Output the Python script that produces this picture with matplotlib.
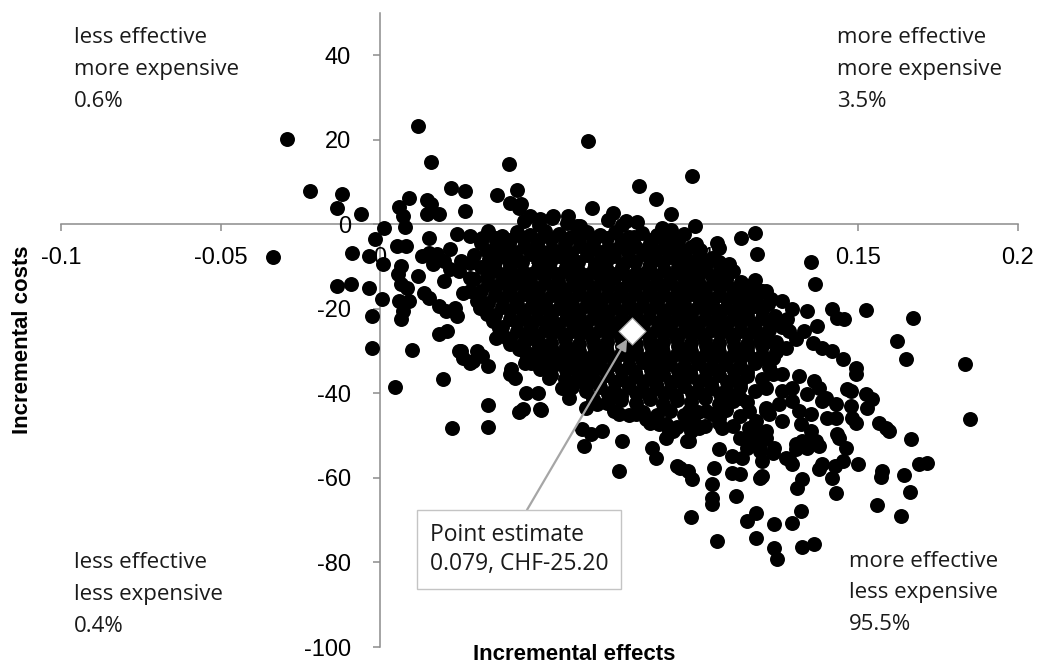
import matplotlib.pyplot as plt

plt.rcParams['axes.unicode_minus'] = False

"""
DATA (read off the cost-effectiveness plane)
"""

# outliers left of / around the y-axis
left_tail = [
    (-0.0290, 20.2), (-0.0218, 7.9), (-0.0118, 7.2), (-0.0136, 3.8), (-0.0058, 2.4),
    (-0.0334, -7.7), (-0.0089, -6.8), (-0.0033, -7.5), (-0.0017, -3.5), (0.0008, -9.5),
    (0.0014, -0.9), (-0.0136, -14.5), (-0.0092, -14.1), (-0.0033, -15.1), (0.0005, -17.7),
    (-0.0024, -21.7), (-0.0024, -29.2), (0.0046, -38.5), (0.0099, -29.8), (0.0196, -36.6),
    (0.0340, -42.8), (0.0227, -48.2), (0.0337, -47.9), (0.0437, -44.4), (0.0506, -43.9),
    (0.0459, -39.9), (0.0494, -39.9), (0.0447, -43.7),
]

# replicates above zero cost
above_zero = [
    (0.0118, 23.2), (0.0161, 14.7), (0.0403, 14.2), (0.0224, 8.6), (0.0265, 7.9),
    (0.0265, 3.1), (0.0368, 7.0), (0.0428, 8.1), (0.0406, 5.0), (0.0437, 3.9),
    (0.0092, 6.2), (0.0061, 4.1), (0.0146, 5.7), (0.0161, 4.8), (0.0146, 2.4),
    (0.0186, 2.4), (0.0071, 2.0), (0.0077, -0.6), (0.0653, 19.7), (0.0979, 11.4),
    (0.0813, 9.1), (0.0866, 6.0), (0.0913, 2.4), (0.0666, 3.9), (0.0989, -0.4),
    (0.0885, -0.9), (0.0729, 2.7), (0.0772, 0.8), (0.0541, 2.0), (0.0588, 2.0),
    (0.0619, -0.4), (0.0443, 4.8), (0.0469, 2.0), (0.0500, 1.2),
]

# upper right edge of the cloud
upper_right = [
    (0.1133, -3.2), (0.1177, -2.1), (0.1183, -7.0), (0.1055, -4.4), (0.1064, -5.6),
    (0.0992, -4.7), (0.0917, -3.5), (0.0929, -6.8), (0.0964, -9.4), (0.0995, -9.4),
    (0.1095, -9.4), (0.1073, -11.0), (0.1073, -14.1), (0.1127, -14.6),
    (0.1168, -15.1), (0.1211, -15.8), (0.1158, -18.1),
]

# left edge of the cloud
left_edge = [
    (0.0155, -3.2), (0.0240, -2.3), (0.0281, -2.8), (0.0321, -3.2), (0.0133, -7.5),
    (0.0155, -6.8), (0.0165, -9.4), (0.0180, -7.0), (0.0202, -8.7), (0.0218, -5.8),
    (0.0249, -11.0), (0.0255, -8.7), (0.0281, -9.1), (0.0281, -12.6), (0.0218, -10.6),
    (0.0202, -13.4), (0.0139, -16.2), (0.0155, -17.4), (0.0186, -19.3), (0.0208, -20.5),
    (0.0234, -19.8), (0.0240, -21.7), (0.0186, -26.0), (0.0211, -25.2), (0.0255, -29.9),
    (0.0259, -31.6), (0.0281, -32.8), (0.0303, -29.9), (0.0321, -31.1), (0.0259, -16.2),
    (0.0281, -15.8), (0.0303, -18.1), (0.0312, -19.8), (0.0334, -21.3), (0.0353, -22.9),
    (0.0374, -24.5), (0.0365, -26.9), (0.0397, -26.9), (0.0406, -28.3), (0.0437, -29.5),
    (0.0412, -34.2), (0.0422, -36.4), (0.0453, -32.8), (0.0500, -34.2), (0.0531, -29.9),
    (0.0553, -33.0), (0.0509, -29.3), (0.0469, -30.7), (0.0334, -12.6), (0.0353, -10.3),
    (0.0334, -6.3), (0.0365, -3.9), (0.0052, -5.1), (0.0083, -5.1), (0.0067, -9.9),
    (0.0055, -11.8), (0.0118, -12.3), (0.0067, -14.1), (0.0086, -15.1), (0.0061, -18.1),
    (0.0092, -18.1), (0.0071, -20.5), (0.0067, -22.4), (0.0459, -32.3), (0.0447, -28.3),
    (0.0491, -27.6), (0.0249, -30.0), (0.0290, -32.3), (0.0337, -33.5), (0.0406, -35.5),
]

# dense core, upper part
core_top = [
    (0.0452, 0.9), (0.0497, -0.2), (0.0540, 1.4), (0.0585, 0.3), (0.0628, -0.5),
    (0.0716, 1.0), (0.0760, -0.1), (0.0805, 0.6),
    (0.0338, -1.6), (0.0383, -2.8), (0.0430, -1.9), (0.0471, -2.6), (0.0518, -1.5),
    (0.0561, -2.4), (0.0600, -3.0), (0.0649, -1.8), (0.0690, -2.5), (0.0736, -1.7),
    (0.0781, -2.9), (0.0822, -2.0), (0.0868, -2.6), (0.0912, -1.4), (0.0953, -2.3),
    (0.0318, -4.5), (0.0362, -5.6), (0.0405, -4.2), (0.0451, -5.3), (0.0493, -4.7),
    (0.0538, -5.8), (0.0580, -4.4), (0.0626, -5.1), (0.0668, -4.0), (0.0714, -5.5),
    (0.0756, -4.6), (0.0800, -5.2), (0.0846, -4.3), (0.0889, -5.7), (0.0931, -4.8),
    (0.0975, -5.4),
    (0.0296, -7.2), (0.0341, -8.3), (0.0385, -7.5), (0.0427, -8.0), (0.0473, -7.1),
    (0.0515, -8.4), (0.0560, -7.6), (0.0602, -8.1), (0.0648, -7.3), (0.0692, -8.2),
    (0.0734, -7.4), (0.0780, -8.0), (0.0824, -7.0), (0.0866, -8.3), (0.0911, -7.7),
    (0.0955, -8.1), (0.0999, -7.4), (0.1041, -8.0),
    (0.0318, -10.2), (0.0363, -11.1), (0.0406, -10.0), (0.0449, -11.3), (0.0495, -10.4),
    (0.0536, -11.0), (0.0582, -10.1), (0.0624, -11.2), (0.0670, -10.5), (0.0712, -10.9),
    (0.0758, -10.0), (0.0802, -11.4), (0.0844, -10.3), (0.0889, -10.8), (0.0933, -10.1),
    (0.0977, -11.2), (0.1019, -10.6), (0.1065, -10.2), (0.1108, -11.0),
    (0.0296, -13.0), (0.0340, -14.0), (0.0385, -13.2), (0.0428, -13.9), (0.0471, -12.9),
    (0.0517, -13.8), (0.0558, -13.3), (0.0604, -14.1), (0.0646, -13.1), (0.0692, -13.7),
    (0.0735, -12.8), (0.0778, -14.0), (0.0823, -13.4), (0.0868, -13.8), (0.0910, -13.0),
    (0.0955, -14.2), (0.0997, -13.3), (0.1043, -13.9), (0.1085, -13.1), (0.1131, -13.7),
    (0.1174, -13.2),
]

# dense core, middle part
core_mid = [
    (0.0318, -15.8), (0.0362, -16.7), (0.0407, -15.9), (0.0450, -16.6), (0.0494, -15.7),
    (0.0538, -16.8), (0.0581, -16.0), (0.0624, -16.5), (0.0670, -15.6), (0.0713, -16.9),
    (0.0757, -16.1), (0.0800, -16.4), (0.0846, -15.8), (0.0888, -16.7), (0.0933, -16.0),
    (0.0976, -16.5), (0.1020, -15.9), (0.1063, -16.8), (0.1109, -16.1), (0.1151, -16.6),
    (0.1195, -15.7),
    (0.0340, -18.7), (0.0384, -19.6), (0.0429, -18.8), (0.0472, -19.5), (0.0516, -18.6),
    (0.0560, -19.7), (0.0603, -18.9), (0.0646, -19.4), (0.0691, -18.5), (0.0735, -19.8),
    (0.0780, -19.0), (0.0822, -19.3), (0.0867, -18.7), (0.0911, -19.6), (0.0954, -18.9),
    (0.0998, -19.5), (0.1042, -18.6), (0.1086, -19.7), (0.1129, -19.0), (0.1175, -19.4),
    (0.1217, -18.8),
    (0.0362, -21.4), (0.0406, -22.4), (0.0450, -21.6), (0.0493, -22.3), (0.0537, -21.5),
    (0.0582, -22.5), (0.0625, -21.7), (0.0668, -22.2), (0.0713, -21.3), (0.0757, -22.6),
    (0.0801, -21.8), (0.0844, -22.1), (0.0889, -21.5), (0.0932, -22.4), (0.0976, -21.7),
    (0.1020, -22.3), (0.1064, -21.4), (0.1107, -22.5), (0.1152, -21.8), (0.1196, -22.2),
    (0.1239, -21.6),
    (0.0384, -24.2), (0.0428, -25.2), (0.0472, -24.4), (0.0516, -25.1), (0.0559, -24.3),
    (0.0603, -25.3), (0.0647, -24.5), (0.0691, -25.0), (0.0735, -24.1), (0.0779, -25.4),
    (0.0823, -24.6), (0.0867, -24.9), (0.0910, -24.3), (0.0954, -25.2), (0.0998, -24.5),
    (0.1042, -25.1), (0.1086, -24.2), (0.1130, -25.3), (0.1174, -24.6), (0.1218, -25.0),
    (0.1261, -24.4),
    (0.0406, -27.1), (0.0450, -28.1), (0.0494, -27.3), (0.0537, -28.0), (0.0581, -27.2),
    (0.0625, -28.2), (0.0669, -27.4), (0.0713, -27.9), (0.0757, -27.0), (0.0801, -28.3),
    (0.0845, -27.5), (0.0888, -27.8), (0.0932, -27.2), (0.0976, -28.1), (0.1020, -27.4),
    (0.1064, -28.0), (0.1108, -27.1), (0.1152, -28.2), (0.1196, -27.5), (0.1240, -27.9),
    (0.0450, -29.9), (0.0494, -30.9), (0.0537, -30.1), (0.0581, -30.8), (0.0625, -30.0),
    (0.0669, -31.0), (0.0713, -30.2), (0.0757, -30.7), (0.0801, -29.8), (0.0845, -31.1),
    (0.0888, -30.3), (0.0932, -30.6), (0.0976, -30.0), (0.1020, -30.9), (0.1064, -30.2),
    (0.1108, -30.8), (0.1152, -29.9), (0.1196, -31.0), (0.1240, -30.3),
]

# dense core, lower part
core_low = [
    (0.0472, -32.7), (0.0516, -33.7), (0.0559, -32.9), (0.0603, -33.6), (0.0647, -32.8),
    (0.0691, -33.8), (0.0735, -33.0), (0.0779, -33.5), (0.0823, -32.6), (0.0867, -33.9),
    (0.0910, -33.1), (0.0954, -33.4), (0.0998, -32.8), (0.1042, -33.7), (0.1086, -33.0),
    (0.1130, -33.6), (0.1174, -32.7), (0.1218, -33.8),
    (0.0537, -35.6), (0.0581, -36.6), (0.0625, -35.8), (0.0669, -36.5), (0.0713, -35.7),
    (0.0757, -36.7), (0.0801, -35.9), (0.0845, -36.4), (0.0888, -35.5), (0.0932, -36.8),
    (0.0976, -36.0), (0.1020, -36.3), (0.1064, -35.7), (0.1108, -36.6), (0.1152, -35.9),
    (0.1196, -36.5),
    (0.0603, -38.4), (0.0647, -39.4), (0.0691, -38.6), (0.0735, -39.3), (0.0779, -38.5),
    (0.0823, -39.5), (0.0867, -38.7), (0.0910, -39.2), (0.0954, -38.3), (0.0998, -39.6),
    (0.1042, -38.8), (0.1086, -39.1), (0.1130, -38.5), (0.1174, -39.4),
    (0.0669, -41.3), (0.0713, -42.3), (0.0757, -41.5), (0.0801, -42.2), (0.0845, -41.4),
    (0.0888, -42.4), (0.0932, -41.6), (0.0976, -42.1), (0.1020, -41.2), (0.1064, -42.5),
    (0.1108, -41.7), (0.1152, -42.0),
    (0.0735, -44.1), (0.0779, -45.1), (0.0823, -44.3), (0.0867, -45.0), (0.0910, -44.2),
    (0.0954, -45.2), (0.0998, -44.4), (0.1042, -44.9), (0.1086, -44.0), (0.1130, -45.3),
    (0.0845, -46.9), (0.0932, -47.9), (0.0976, -47.1), (0.1020, -47.8), (0.1064, -47.0),
    (0.1108, -47.7),
]

# replicates packed between the rows of the dense core
core_fill = [
    (0.0365, -3.3), (0.0408, -3.8), (0.0449, -3.2), (0.0496, -3.7), (0.0536, -3.4),
    (0.0583, -3.9), (0.0623, -3.2), (0.0671, -3.6), (0.0711, -3.3), (0.0759, -3.8),
    (0.0797, -3.1), (0.0849, -3.7), (0.0886, -3.4), (0.0934, -3.9),
    (0.0388, -6.1), (0.0424, -6.6), (0.0476, -6.0), (0.0512, -6.5), (0.0563, -6.2),
    (0.0599, -6.7), (0.0651, -6.0), (0.0689, -6.5), (0.0737, -6.1), (0.0777, -6.6),
    (0.0827, -6.0), (0.0863, -6.4), (0.0914, -6.2), (0.0952, -6.7), (0.1002, -6.1),
    (0.0360, -9.0), (0.0409, -9.4), (0.0446, -8.8), (0.0498, -9.3), (0.0533, -9.0),
    (0.0585, -9.5), (0.0621, -8.9), (0.0673, -9.3), (0.0709, -8.8), (0.0761, -9.4),
    (0.0799, -9.0), (0.0847, -9.5), (0.0886, -8.9), (0.0936, -9.3), (0.0974, -9.0),
    (0.1022, -9.4), (0.1062, -8.9),
    (0.0388, -11.9), (0.0425, -12.3), (0.0474, -11.7), (0.0514, -12.2), (0.0561, -11.8),
    (0.0601, -12.4), (0.0649, -11.9), (0.0689, -12.2), (0.0738, -11.7), (0.0775, -12.3),
    (0.0826, -11.8), (0.0865, -12.2), (0.0913, -11.9), (0.0952, -12.4), (0.1000, -11.8),
    (0.1040, -12.2), (0.1088, -11.9),
    (0.0365, -14.7), (0.0404, -15.1), (0.0453, -14.6), (0.0491, -15.0), (0.0541, -14.7),
    (0.0578, -15.2), (0.0627, -14.6), (0.0667, -15.0), (0.0716, -14.8), (0.0754, -15.2),
    (0.0803, -14.6), (0.0843, -15.0), (0.0891, -14.7), (0.0930, -15.1), (0.0979, -14.6),
    (0.1017, -15.0), (0.1066, -14.8), (0.1106, -15.2), (0.1154, -14.7),
    (0.0387, -17.5), (0.0426, -17.9), (0.0475, -17.4), (0.0513, -17.8), (0.0563, -17.5),
    (0.0600, -18.0), (0.0649, -17.4), (0.0688, -17.8), (0.0738, -17.6), (0.0777, -18.0),
    (0.0825, -17.4), (0.0864, -17.8), (0.0914, -17.5), (0.0951, -17.9), (0.1001, -17.4),
    (0.1039, -17.8), (0.1089, -17.6), (0.1126, -18.0), (0.1178, -17.5),
    (0.0409, -20.3), (0.0447, -20.8), (0.0496, -20.2), (0.0534, -20.6), (0.0585, -20.4),
    (0.0622, -20.8), (0.0671, -20.2), (0.0710, -20.6), (0.0760, -20.4), (0.0798, -20.8),
    (0.0847, -20.2), (0.0886, -20.6), (0.0935, -20.3), (0.0973, -20.7), (0.1023, -20.2),
    (0.1061, -20.6), (0.1110, -20.4), (0.1149, -20.8), (0.1199, -20.3),
    (0.0431, -23.1), (0.0469, -23.6), (0.0519, -23.0), (0.0556, -23.5), (0.0606, -23.2),
    (0.0644, -23.6), (0.0694, -23.0), (0.0732, -23.4), (0.0782, -23.2), (0.0820, -23.6),
    (0.0870, -23.0), (0.0907, -23.4), (0.0957, -23.2), (0.0995, -23.6), (0.1045, -23.0),
    (0.1083, -23.4), (0.1133, -23.2), (0.1171, -23.6), (0.1221, -23.1),
    (0.0453, -25.9), (0.0491, -26.4), (0.0540, -25.8), (0.0578, -26.3), (0.0628, -26.0),
    (0.0666, -26.4), (0.0716, -25.8), (0.0754, -26.2), (0.0804, -26.0), (0.0842, -26.4),
    (0.0891, -25.8), (0.0929, -26.2), (0.0979, -26.0), (0.1017, -26.4), (0.1067, -25.8),
    (0.1105, -26.2), (0.1155, -26.0), (0.1193, -26.4),
    (0.0497, -28.8), (0.0534, -29.2), (0.0584, -28.7), (0.0622, -29.1), (0.0672, -28.9),
    (0.0710, -29.3), (0.0760, -28.7), (0.0798, -29.1), (0.0848, -28.9), (0.0885, -29.3),
    (0.0935, -28.7), (0.0973, -29.1), (0.1023, -28.9), (0.1061, -29.3), (0.1111, -28.7),
    (0.1149, -29.1), (0.1199, -28.9),
    (0.0519, -31.6), (0.0556, -32.1), (0.0606, -31.5), (0.0644, -31.9), (0.0694, -31.7),
    (0.0732, -32.1), (0.0782, -31.5), (0.0820, -31.9), (0.0870, -31.7), (0.0907, -32.1),
    (0.0957, -31.5), (0.0995, -31.9), (0.1045, -31.7), (0.1083, -32.1), (0.1133, -31.5),
    (0.1171, -31.9),
    (0.0584, -34.5), (0.0622, -34.9), (0.0672, -34.4), (0.0710, -34.8), (0.0760, -34.6),
    (0.0798, -35.0), (0.0848, -34.4), (0.0885, -34.8), (0.0935, -34.6), (0.0973, -35.0),
    (0.1023, -34.4), (0.1061, -34.8), (0.1111, -34.6), (0.1149, -35.0),
    (0.0650, -37.3), (0.0688, -37.8), (0.0738, -37.2), (0.0776, -37.6), (0.0826, -37.4),
    (0.0864, -37.8), (0.0913, -37.2), (0.0951, -37.6), (0.1001, -37.4), (0.1039, -37.8),
    (0.1089, -37.2), (0.1127, -37.6),
    (0.0716, -40.1), (0.0754, -40.6), (0.0804, -40.0), (0.0842, -40.4), (0.0891, -40.2),
    (0.0929, -40.6), (0.0979, -40.0), (0.1017, -40.4), (0.1067, -40.2), (0.1105, -40.6),
]

# below the core
lower_mid = [
    (0.0616, -37.0), (0.0594, -41.1), (0.0647, -43.4), (0.0679, -42.5), (0.0720, -41.1),
    (0.0750, -44.9), (0.0804, -44.9), (0.0541, -29.9), (0.0584, -32.3), (0.0531, -36.3),
    (0.0572, -38.7), (0.0625, -33.0), (0.0666, -31.6), (0.0647, -35.4), (0.0500, -43.7),
    (0.0632, -48.4), (0.0663, -49.6), (0.0697, -48.9), (0.0641, -52.4), (0.0760, -51.2),
    (0.0750, -58.3), (0.0835, -46.0), (0.0876, -47.2), (0.0898, -47.2), (0.0854, -52.9),
    (0.0866, -55.3), (0.0898, -50.5), (0.0907, -48.9), (0.0970, -51.2), (0.0976, -48.9),
    (0.0986, -47.2), (0.0917, -48.9), (0.0961, -47.2), (0.0961, -51.2), (0.0970, -44.1),
    (0.1001, -48.2), (0.1023, -44.1), (0.1064, -45.8), (0.1073, -48.2), (0.1086, -41.1),
    (0.1127, -41.1), (0.1158, -44.1), (0.1158, -48.2), (0.1211, -43.4),
    (0.0930, -57.1), (0.0939, -57.6), (0.0964, -58.3), (0.0979, -60.2),
]

# bottom tail
lower_tail = [
    (0.1055, -74.9), (0.0976, -69.2), (0.1117, -64.2), (0.1042, -64.7), (0.1042, -66.1),
    (0.1042, -61.4), (0.1048, -57.6), (0.1064, -53.1), (0.1105, -54.8), (0.1105, -58.8),
    (0.1127, -59.0), (0.1199, -59.5), (0.1190, -60.0), (0.1190, -53.6),
    (0.1158, -51.2), (0.1127, -50.5), (0.1236, -52.9), (0.1180, -48.9), (0.1211, -50.5),
    (0.1283, -55.5), (0.1293, -56.7), (0.1305, -52.0), (0.1324, -51.2), (0.1356, -51.7),
    (0.1377, -52.4), (0.1440, -50.5), (0.1180, -68.2), (0.1152, -70.1), (0.1180, -74.1),
    (0.1236, -76.5), (0.1243, -79.1), (0.1324, -76.3), (0.1362, -75.6), (0.1321, -67.8),
    (0.1293, -70.6), (0.1236, -70.8), (0.1324, -60.2), (0.1308, -62.3), (0.1377, -57.8),
    (0.1425, -57.1), (0.1418, -60.0), (0.1431, -63.6), (0.1500, -56.7), (0.1450, -56.0),
    (0.1387, -56.7), (0.1462, -52.9), (0.1434, -49.6),
]

# right tail
right_tail = [
    (0.1352, -8.9), (0.1365, -14.1), (0.1199, -15.7), (0.1227, -17.7), (0.1261, -18.1),
    (0.1293, -20.0), (0.1277, -22.4), (0.1337, -20.5), (0.1371, -24.0), (0.1418, -20.0),
    (0.1434, -22.2), (0.1456, -22.4), (0.1525, -20.3), (0.1672, -22.2), (0.1622, -27.6),
    (0.1650, -31.9), (0.1835, -33.0), (0.1848, -46.0), (0.1666, -50.8), (0.1493, -34.0),
    (0.1493, -35.4), (0.1478, -39.4), (0.1525, -40.1), (0.1543, -41.3), (0.1528, -43.4),
    (0.1478, -43.0), (0.1481, -45.8), (0.1493, -47.0), (0.1565, -47.0), (0.1587, -48.1),
    (0.1597, -48.9), (0.1575, -58.3), (0.1572, -59.7), (0.1644, -59.3), (0.1691, -56.7),
    (0.1716, -56.4), (0.1663, -63.4), (0.1559, -66.3), (0.1634, -68.9), (0.1465, -38.9),
    (0.1236, -22.8), (0.1283, -25.2), (0.1330, -25.2),
]

# cluster right of the core
right_cluster = [
    (0.1261, -39.4), (0.1293, -41.8), (0.1337, -40.1), (0.1377, -38.7), (0.1387, -41.8),
    (0.1315, -44.1), (0.1352, -44.9), (0.1402, -45.8), (0.1261, -46.5), (0.1221, -44.9),
    (0.1180, -46.5), (0.1168, -48.9), (0.1211, -48.9), (0.1321, -47.2), (0.1352, -48.9),
    (0.1368, -51.2), (0.1337, -52.9), (0.1305, -53.1), (0.1274, -55.3), (0.1233, -54.1),
    (0.1190, -52.0), (0.1149, -52.9), (0.1136, -55.3), (0.1199, -56.0),
    (0.1305, -27.2), (0.1356, -28.1), (0.1387, -29.3), (0.1418, -30.0), (0.1450, -31.9),
    (0.1315, -35.9), (0.1362, -37.0), (0.1293, -38.7), (0.1190, -27.6), (0.1221, -27.6),
    (0.1199, -31.6), (0.1231, -31.6), (0.1274, -29.3), (0.1231, -35.4), (0.1261, -35.4),
    (0.1211, -38.7), (0.1252, -42.5), (0.1211, -44.1), (0.1399, -41.1), (0.1431, -42.5),
    (0.1431, -45.8),
]

point_effect = 0.079
point_cost = -25.20

x_ticks = [-0.1, -0.05, 0, 0.05, 0.1, 0.15, 0.2]
x_tick_labels = ['-0.1', '-0.05', '0', '0.05', '0.1', '0.15', '0.2']
y_ticks = [-100, -80, -60, -40, -20, 0, 20, 40]
y_tick_labels = ['-100', '-80', '-60', '-40', '-20', '0', '20', '40']

quadrant_ul = ['less effective', 'more expensive', '0.6%']
quadrant_ur = ['more effective', 'more expensive', '3.5%']
quadrant_ll = ['less effective', 'less expensive', '0.4%']
quadrant_lr = ['more effective', 'less expensive', '95.5%']

all_points = (left_tail + above_zero + upper_right + left_edge + core_top + core_mid
              + core_low + core_fill + lower_mid + lower_tail + right_tail + right_cluster)
effects = [p[0] for p in all_points]
costs = [p[1] for p in all_points]

"""
PLOT
"""

W, H = 1039, 668
fig = plt.figure(figsize=(W / 100, H / 100), dpi=100)
ax = fig.add_axes([61 / W, 1 - 647 / H, 957 / W, 634 / H])

ax.scatter(effects, costs, s=116, c='black', linewidths=0, zorder=2)
ax.scatter([point_effect], [point_cost], marker='D', s=190, c='white',
           edgecolors='#9a9a9a', linewidths=0.8, zorder=5)

ax.set_xlim(-0.1, 0.2)
ax.set_ylim(-100, 50)

# axes crossing at zero, drawn beneath the points
for side in ['top', 'right']:
    ax.spines[side].set_visible(False)
for side in ['left', 'bottom']:
    ax.spines[side].set_position(('data', 0))
    ax.spines[side].set_color('#8c8c8c')
    ax.spines[side].set_linewidth(1.1)
    ax.spines[side].set_zorder(0.5)
ax.set_axisbelow(True)

tick_font = 'Liberation Sans'
ax.set_xticks(x_ticks)
ax.set_xticklabels(x_tick_labels, fontfamily=tick_font)
ax.set_yticks(y_ticks)
ax.set_yticklabels(y_tick_labels, fontfamily=tick_font)
ax.tick_params(direction='out', length=5, width=1.1, color='#8c8c8c',
               labelsize=17, labelcolor='black')
ax.tick_params(axis='x', pad=11)
ax.tick_params(axis='y', pad=16)

fig.text(574 / W, 1 - 654 / H, 'Incremental effects', ha='center', va='center',
         fontsize=16, fontweight='bold', fontfamily=tick_font)
fig.text(23 / W, 1 - 340 / H, 'Incremental costs', ha='center', va='center',
         rotation=90, fontsize=16, fontweight='bold', fontfamily=tick_font)

# quadrant captions, one line at a time
label_font = 'Open Sans'
quadrants = [(74, 43.3, quadrant_ul), (837, 43.3, quadrant_ur),
             (74, 568.3, quadrant_ll), (849, 566.7, quadrant_lr)]
for qx, qy, lines in quadrants:
    for i, line in enumerate(lines):
        fig.text(qx / W, 1 - (qy + i * 31.7) / H, line, ha='left', va='baseline',
                 fontsize=16, fontfamily=label_font, color='#1a1a1a')

# point estimate call-out
ax.annotate('Point estimate\n0.079, CHF-25.20', xy=(point_effect, point_cost),
            xytext=(430, H - 523), textcoords='figure pixels',
            ha='left', va='top', fontsize=16.5, fontfamily=label_font, color='#1a1a1a',
            linespacing=1.3, zorder=4,
            bbox=dict(boxstyle='square,pad=0.55', fc='white', ec='#c4c4c4', lw=1.0),
            arrowprops=dict(arrowstyle='-|>', color='#a6a6a6', lw=1.6,
                            mutation_scale=16, relpos=(0.5, 1.0),
                            shrinkA=0, shrinkB=7))

fig.savefig('out.png', dpi=100)
